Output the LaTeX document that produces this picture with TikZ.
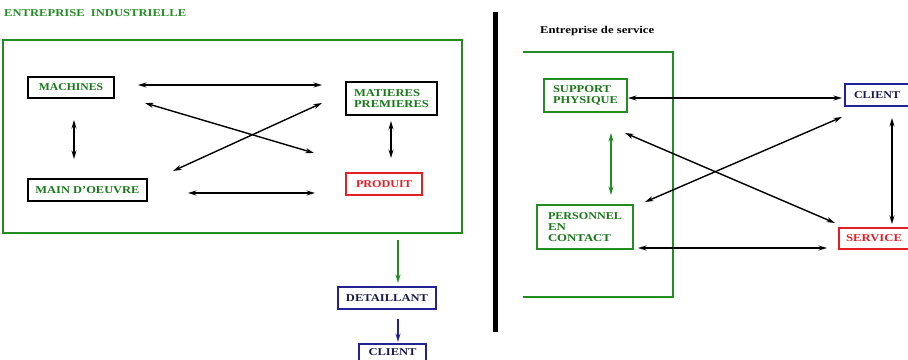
\documentclass[tikz,border=0pt]{standalone}
\usepackage{graphicx}
\usepackage{fontspec}
\setmainfont{Liberation Serif}
\usetikzlibrary{arrows.meta}
\definecolor{fgreen}{RGB}{35,140,35}
\definecolor{tgreen}{RGB}{25,120,25}
\definecolor{fred}{RGB}{228,30,35}
\definecolor{fblue}{RGB}{35,35,150}
\definecolor{fnavy}{RGB}{25,25,80}
\newcommand{\tw}[2]{\resizebox{#1}{\height}{#2}}
\tikzset{
  box/.style={draw, line width=2pt, inner sep=0pt, align=left,
    font=\fontsize{10.5}{11}\selectfont\bfseries},
  label/.style={inner sep=0pt, anchor=west, font=\fontsize{10.5}{11}\selectfont\bfseries},
  tip/.tip={Stealth[length=8.5pt,width=5pt]},
  arr/.style={line width=1.4pt, tip-tip},
  darr/.style={line width=1.7pt, -tip},
}
\begin{document}
\begin{tikzpicture}[x=1pt,y=-1pt]
\useasboundingbox (0,0) rectangle (908,359);
% titles
\node[label, text=fgreen] (t1) at (4,13) {\tw{182pt}{ENTREPRISE\ \ INDUSTRIELLE}};
\node[label, text=black] (t2) at (540,31) {\tw{114pt}{Entreprise de service}};
% left frame
\draw[fgreen, line width=2.2pt] (3,40) rectangle (462,233);
% separator
\draw[black, line width=5pt] (495.5,12) -- (495.5,332);
% right bracket
\draw[fgreen, line width=2.2pt] (523,52) -- (673,52) -- (673,297) -- (523,297);
% left nodes
\node[box, draw=black, text=tgreen, minimum width=86pt, minimum height=21pt] (mach) at (71,87.5) {\tw{64pt}{MACHINES}};
\node[box, draw=black, text=tgreen, minimum width=91pt, minimum height=33pt] (mat) at (391.5,98.5) {\tw{66pt}{MATIERES}\\\tw{75pt}{PREMIERES}};
\node[box, draw=black, text=tgreen, minimum width=119pt, minimum height=22pt] (main) at (87.5,190) {\tw{104pt}{MAIN D'OEUVRE}};
\node[box, draw=fred, text=fred, minimum width=76pt, minimum height=22pt] (prod) at (384,184) {\tw{56pt}{PRODUIT}};
\node[box, draw=fblue, text=fnavy, minimum width=98pt, minimum height=22pt] (det) at (387,298) {\tw{82pt}{DETAILLANT}};
\node[box, draw=fblue, text=fnavy, minimum width=67pt, minimum height=18pt] (cli1) at (392.5,352.5) {\tw{48pt}{CLIENT}};
% right nodes
\node[box, draw=fgreen, text=tgreen, minimum width=83pt, minimum height=33pt] (sup) at (585.5,95.5) {\tw{58pt}{SUPPORT}\\\tw{65pt}{PHYSIQUE}};
\node[box, draw=fblue, text=fnavy, minimum width=64pt, minimum height=22pt] (cli2) at (877,95) {\tw{46pt}{CLIENT}};
\node[box, draw=fgreen, text=tgreen, minimum width=96pt, minimum height=44pt] (pers) at (585,227) {\tw{74pt}{PERSONNEL}\\\tw{18pt}{EN}\\\tw{63pt}{CONTACT}};
\node[box, draw=fred, text=fred, minimum width=70pt, minimum height=21pt] (serv) at (874,238.5) {\tw{56pt}{SERVICE}};
% arrow end points (left)
\coordinate (a1) at (138,85);  \coordinate (a2) at (322,85);
\coordinate (b1) at (145,103); \coordinate (b2) at (314,153);
\coordinate (c1) at (322,103); \coordinate (c2) at (173,171);
\coordinate (d1) at (74,120);  \coordinate (d2) at (74,159);
\coordinate (e1) at (391,121); \coordinate (e2) at (391,158);
\coordinate (f1) at (188,193); \coordinate (f2) at (315,193);
\coordinate (g1) at (398,240); \coordinate (g2) at (398,283);
\coordinate (h1) at (398,319); \coordinate (h2) at (398,342);
% arrow end points (right)
\coordinate (i1) at (628,98);  \coordinate (i2) at (842,98);
\coordinate (j1) at (625,133); \coordinate (j2) at (835,223);
\coordinate (k1) at (842,117); \coordinate (k2) at (645,202);
\coordinate (l1) at (611,133); \coordinate (l2) at (611,195);
\coordinate (m1) at (892,118); \coordinate (m2) at (892,224);
\coordinate (n1) at (638,248); \coordinate (n2) at (827,248);
% left arrows
\draw[arr] (a1) -- (a2);
\draw[arr] (b1) -- (b2);
\draw[arr] (c1) -- (c2);
\draw[arr] (d1) -- (d2);
\draw[arr] (e1) -- (e2);
\draw[arr] (f1) -- (f2);
\draw[darr, fgreen] (g1) -- (g2);
\draw[darr, fblue] (h1) -- (h2);
% right arrows
\draw[arr] (i1) -- (i2);
\draw[arr] (j1) -- (j2);
\draw[arr] (k1) -- (k2);
\draw[arr, fgreen, line width=1.8pt] (l1) -- (l2);
\draw[arr] (m1) -- (m2);
\draw[arr] (n1) -- (n2);
\end{tikzpicture}
\end{document}
